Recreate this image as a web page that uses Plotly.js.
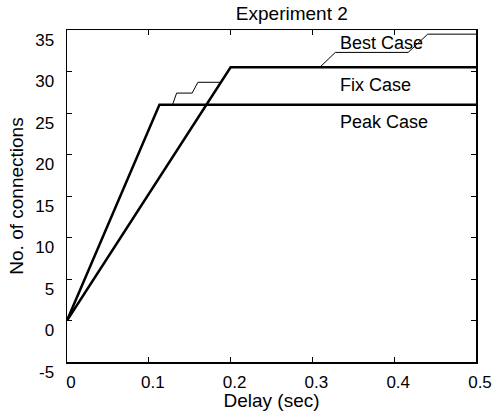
<!DOCTYPE html>
<html>
<head>
<meta charset="utf-8">
<script src="https://cdn.plot.ly/plotly-3.0.1.min.js"></script>
<style>html,body{margin:0;padding:0;background:#fff;}</style>
</head>
<body>
<div id="chart" style="width:498px;height:411px;"></div>
<script>
// Data
var delayPeak = [0, 0.113, 0.5];
var connPeak  = [0, 26.0, 26.0];

var delayFix = [0, 0.2, 0.5];
var connFix  = [0, 30.5, 30.5];

var delayBest = [0, 0.113, 0.129, 0.134, 0.153, 0.160, 0.188, 0.2, 0.309, 0.328, 0.417, 0.441, 0.5];
var connBest  = [0, 26.0, 26.0, 27.4, 27.4, 28.7, 28.7, 30.5, 30.5, 32.3, 32.3, 34.5, 34.5];

var labelNames = ["Best Case", "Fix Case", "Peak Case"];
var labelX = [0.331, 0.331, 0.331];
var labelY = [33.4, 28.4, 23.9];

var xTicks = [0, 0.1, 0.2, 0.3, 0.4, 0.5];
var yTicks = [-5, 0, 5, 10, 15, 20, 25, 30, 35];

var FONT = "Liberation Sans, Arial, Helvetica, sans-serif";

var traces = [
  {x: delayBest, y: connBest, mode: "lines", line: {color: "#000", width: 1}, name: "Best Case", hoverinfo: "skip"},
  {x: delayFix, y: connFix, mode: "lines", line: {color: "#000", width: 2.5}, name: "Fix Case", hoverinfo: "skip"},
  {x: delayPeak, y: connPeak, mode: "lines", line: {color: "#000", width: 2.5}, name: "Peak Case", hoverinfo: "skip"}
];

var annotations = labelNames.map(function (t, i) {
  return {x: labelX[i], y: labelY[i], xref: "x", yref: "y", text: t, showarrow: false,
          xanchor: "left", yanchor: "middle", font: {family: FONT, size: 18, color: "#000"}};
});

var layout = {
  width: 498, height: 411,
  margin: {l: 67, r: 22, t: 30, b: 49, pad: 0},
  paper_bgcolor: "#fff", plot_bgcolor: "#fff",
  showlegend: false,
  font: {family: FONT, size: 17, color: "#000"},
  title: {text: "Experiment 2", font: {family: FONT, size: 19, color: "#000"},
          xref: "container", yref: "container", x: 0.586, y: 0.968, xanchor: "center", yanchor: "middle"},
  xaxis: {
    range: [0, 0.5], tickvals: xTicks, ticktext: xTicks.map(String),
    showgrid: false, zeroline: false, showline: true, linecolor: "#000", linewidth: 1.5,
    mirror: "ticks", ticks: "inside", ticklen: 5, tickwidth: 1, tickcolor: "#000",
    tickfont: {family: FONT, size: 17, color: "#000"}, ticklabelshift: 4, ticklabelstandoff: 4,
    title: {text: "Delay (sec)", font: {family: FONT, size: 19, color: "#000"}, standoff: 0}
  },
  yaxis: {
    range: [-5, 35], tickvals: yTicks, ticktext: yTicks.map(String),
    showgrid: false, zeroline: false, showline: true, linecolor: "#000", linewidth: 1.5,
    mirror: "ticks", ticks: "inside", ticklen: 5, tickwidth: 1, tickcolor: "#000",
    tickfont: {family: FONT, size: 17, color: "#000"}, ticklabelshift: 10, ticklabelstandoff: 8,
    title: {text: "No. of connections", font: {family: FONT, size: 19, color: "#000"}, standoff: 6}
  },
  annotations: annotations
};

Plotly.newPlot("chart", traces, layout, {staticPlot: true, displayModeBar: false});
</script>
</body>
</html>
